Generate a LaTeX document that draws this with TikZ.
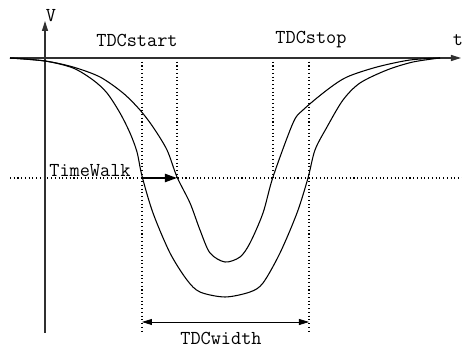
\documentclass[tikz,border=0pt]{standalone}
\usepackage{fontspec}
\usepackage{tikz}
\usetikzlibrary{arrows.meta,positioning}
\definecolor{axisgray}{HTML}{303030}
\tikzset{
  axisline/.style={-{Triangle[length=7.5pt,width=4.5pt]}, line width=0.9pt, draw=axisgray},
  guideline/.style={dotted, line width=0.8pt, draw=black},
  pulse/.style={line width=0.8pt, draw=black},
  walkedge/.style={-{Triangle[length=9pt,width=6pt]}, line width=1.6pt, draw=black},
  widthedge/.style={{Triangle[length=7.5pt,width=4.5pt]}-{Triangle[length=7.5pt,width=4.5pt]}, line width=0.6pt, draw=black},
  lbl/.style={font=\ttfamily\fontsize{14.8}{17}\selectfont, inner sep=0pt}
}
\begin{document}
\begin{tikzpicture}[x=0.75pt, y=-0.75pt]
  \useasboundingbox (0,0) rectangle (462,348);
  \coordinate (tleft) at (10,58);
  \coordinate (tright) at (461,58);
  \coordinate (vbot) at (45,333);
  \coordinate (vtop) at (45,21);
  \coordinate (s1top) at (142,58);
  \coordinate (s1bot) at (142,333);
  \coordinate (s2top) at (177,58);
  \coordinate (s2bot) at (177,178);
  \coordinate (p1top) at (273,58);
  \coordinate (p1bot) at (273,178);
  \coordinate (p2top) at (309,58);
  \coordinate (p2bot) at (309,333);
  \coordinate (thleft) at (10,178);
  \coordinate (thright) at (462,178);
  \coordinate (walk1) at (142,178);
  \coordinate (walk2) at (177,178);
  \coordinate (wid1) at (142,322);
  \coordinate (wid2) at (309,322);
  \node[lbl] (vlbl) at (51,16) {V};
  \node[lbl] (tlbl) at (458,40) {t};
  \node[lbl] (startlbl) at (137,40) {TDCstart};
  \node[lbl] (stoplbl) at (311,40) {TDCstop};
  \node[lbl, anchor=base] (walklbl) at (90,177) {TimeWalk};
  \node[lbl] (widlbl) at (221,338) {TDCwidth};
  \draw[guideline] (thleft) -- (thright);
  \draw[guideline] (s1top) -- (s1bot);
  \draw[guideline] (s2top) -- (s2bot);
  \draw[guideline] (p1top) -- (p1bot);
  \draw[guideline] (p2top) -- (p2bot);
  \draw[axisline] (tleft) -- (tright);
  \draw[axisline] (vbot) -- (vtop);
  \draw[pulse] plot[smooth, tension=0.5] coordinates {(10,58) (45,61) (73,68) (93,80) (107,93) (120,113) (130,133) (137,152) (142,176) (153,213) (170,253) (187,280) (200,292) (225,297) (250,292) (263,283) (280,253) (297,213) (308,178) (315,150) (327,127) (343,100) (360,83) (387,70) (413,62) (440,58)};
  \draw[pulse] plot[smooth, tension=0.5] coordinates {(10,58) (45,61) (73,67) (100,77) (123,93) (140,110) (153,127) (167,150) (177,177) (190,203) (200,230) (210,253) (225,262) (240,257) (250,243) (263,213) (273,177) (293,123) (303,110) (327,90) (347,77) (377,67) (410,60) (440,58)};
  \draw[walkedge] (walk1) -- (walk2);
  \draw[widthedge] (wid1) -- (wid2);
\end{tikzpicture}
\end{document}
